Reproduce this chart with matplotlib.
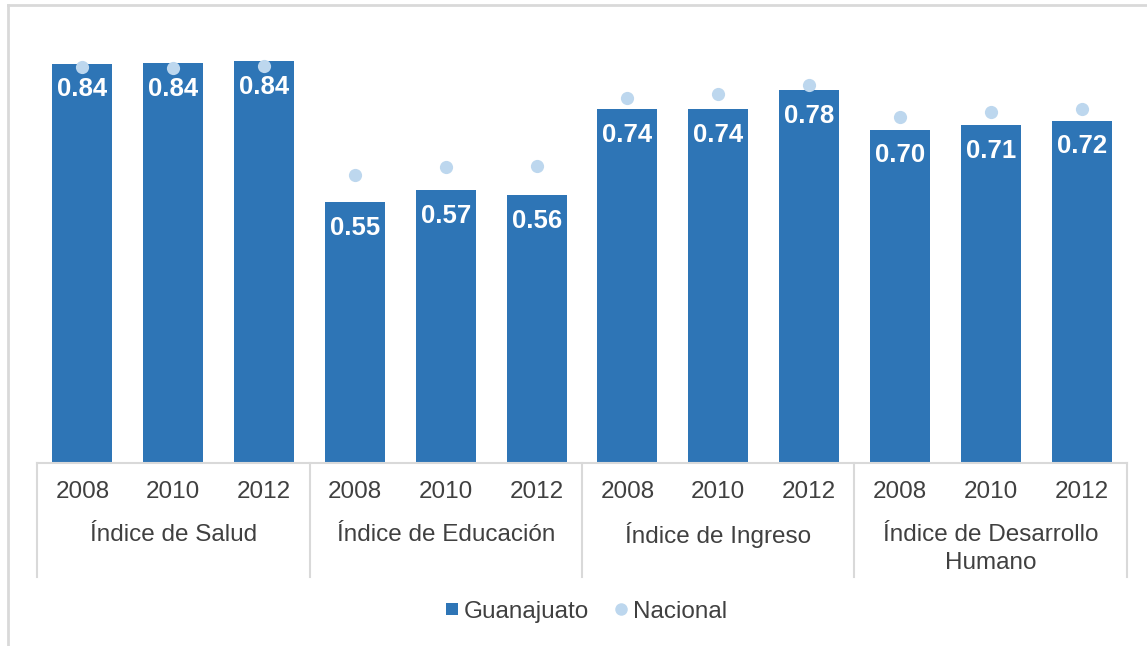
import matplotlib
matplotlib.use("Agg")
import matplotlib.pyplot as plt
from matplotlib.lines import Line2D
from matplotlib.transforms import blended_transform_factory
import numpy as np

plt.rcParams['font.family'] = ['Liberation Sans', 'DejaVu Sans']

groups = ["Índice de Salud", "Índice de Educación", "Índice de Ingreso",
          "Índice de Desarrollo\nHumano"]
years = ["2008", "2010", "2012"]
guanajuato = [0.838, 0.839, 0.843,
              0.547, 0.572, 0.561,
              0.743, 0.743, 0.782,
              0.699, 0.709, 0.718]
nacional = [0.830, 0.829, 0.833,
            0.605, 0.621, 0.623,
            0.765, 0.774, 0.793,
            0.726, 0.737, 0.743]

bar_color = "#2E75B6"
dot_color = "#BDD7EE"
text_color = "#404040"
grid_color = "#D9D9D9"

W, H = 1147, 646
fig = plt.figure(figsize=(W / 100, H / 100), dpi=100)
fig.patch.set_facecolor("white")

left, right = 37 / W, 1127 / W
bottom, top = 1 - 462.5 / H, 1 - 20 / H
ax = fig.add_axes([left, bottom, right - left, top - bottom])

n = len(guanajuato)
x = np.arange(n)
ax.bar(x, guanajuato, width=0.66, color=bar_color, zorder=2)
ax.plot(x, nacional, linestyle="none", marker="o", markersize=9.5,
        color=dot_color, markeredgewidth=0, zorder=3)

for xi, v in zip(x, guanajuato):
    ax.annotate(f"{v:.2f}", xy=(xi, v), xytext=(0, -18.5), textcoords="offset points",
                ha="center", va="center", color="white", fontsize=18.5,
                fontweight="bold", zorder=4)

ax.set_xlim(-0.5, n - 0.5)
ax.set_ylim(0, 442.5 / 476)
for s in ["top", "right", "left"]:
    ax.spines[s].set_visible(False)
ax.spines["bottom"].set_color(grid_color)
ax.spines["bottom"].set_linewidth(1.5)
ax.set_yticks([])
ax.set_xticks([])

tr = blended_transform_factory(ax.transData, fig.transFigure)
ng = len(groups)
per = len(years)
# year labels
for i in range(n):
    ax.text(x[i], 1 - 492 / H, years[i % per], transform=tr, ha="center",
            va="center", fontsize=17.5, color=text_color)
# group labels (one text per line)
for g in range(ng):
    cx = g * per + (per - 1) / 2
    for k, line in enumerate(groups[g].split("\n")):
        ax.text(cx, 1 - (535 + 28 * k) / H, line, transform=tr, ha="center",
                va="center", fontsize=17.5, color=text_color)
# separators
for g in range(ng + 1):
    xb = g * per - 0.5
    ax.add_line(Line2D([xb, xb], [1 - 462.5 / H, 1 - 577 / H], transform=tr,
                       color=grid_color, linewidth=1.5, clip_on=False))

# legend
handles = [Line2D([], [], linestyle="none", marker="s", markersize=8,
                  color=bar_color, markeredgewidth=0),
           Line2D([], [], linestyle="none", marker="o", markersize=9,
                  color=dot_color, markeredgewidth=0)]
leg = fig.legend(handles, ["Guanajuato", "Nacional"], loc="center",
                 bbox_to_anchor=(586 / W, 1 - 611.5 / H), ncol=2, frameon=False,
                 fontsize=17.5, handlelength=0.6, handletextpad=0.2,
                 columnspacing=1.0, labelcolor=text_color)

# outer border (top and left visible)
fig.add_artist(Line2D([8 / W, 8 / W], [0, 1 - 5 / H], transform=fig.transFigure,
                      color=grid_color, linewidth=2))
fig.add_artist(Line2D([8 / W, 1], [1 - 5 / H, 1 - 5 / H], transform=fig.transFigure,
                      color=grid_color, linewidth=2))

fig.savefig("out.png", dpi=100, facecolor="white")
